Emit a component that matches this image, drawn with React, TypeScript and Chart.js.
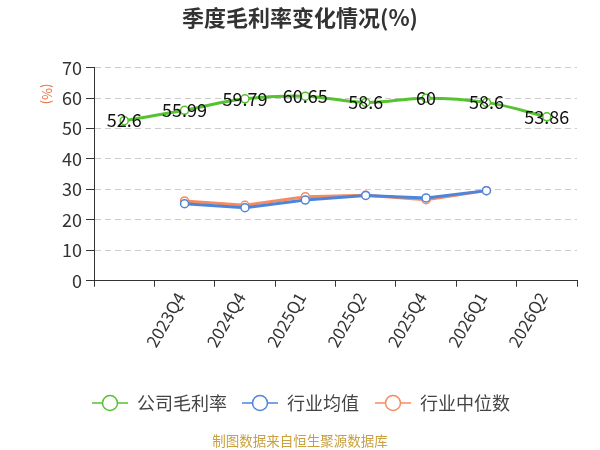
import React, { useEffect, useRef } from "react";
import { Chart, registerables } from "chart.js";

Chart.register(...registerables);

// quarters on the x axis (first slot has no visible label)
const quarters = ["", "2023Q4", "2024Q4", "2025Q1", "2025Q2", "2025Q4", "2026Q1", "2026Q2"];
const companyMargin = [52.6, 55.99, 59.79, 60.65, 58.6, 60, 58.6, 53.86];
const industryAvg = [null, 25.3, 24.0, 26.5, 28.0, 27.2, 29.6, null];
const industryMedian = [null, 26.2, 24.8, 27.6, 28.1, 26.6, 29.6, null];
const yTicks = { min: 0, max: 70, step: 10 };

const FONT = "'Noto Sans CJK SC', 'Noto Sans', sans-serif";
const GREEN = "#55C230";
const BLUE = "#4E85DC";
const ORANGE = "#F58B5E";

const valueLabels = {
  id: "valueLabels",
  afterDatasetsDraw(chart: any) {
    const { ctx } = chart;
    const meta = chart.getDatasetMeta(0);
    ctx.save();
    ctx.font = `18px ${FONT}`;
    ctx.fillStyle = "#111";
    ctx.textAlign = "center";
    ctx.textBaseline = "middle";
    meta.data.forEach((pt: any, i: number) => {
      const v = chart.data.datasets[0].data[i];
      if (v == null) return;
      ctx.fillText(String(v), pt.x, pt.y);
    });
    ctx.restore();
  },
};

// legend with a line through a hollow circle, plus the y unit and source note
const extras = {
  id: "extras",
  afterDraw(chart: any) {
    const { ctx } = chart;
    ctx.save();

    // y axis unit
    ctx.translate(47, 94);
    ctx.rotate(Math.PI / 2);
    ctx.font = `13px ${FONT}`;
    ctx.fillStyle = "#E86A3A";
    ctx.textAlign = "center";
    ctx.textBaseline = "middle";
    ctx.fillText("(%)", 0, 0);
    ctx.setTransform(chart.currentDevicePixelRatio, 0, 0, chart.currentDevicePixelRatio, 0, 0);

    const starts = [92, 242, 375];
    const y = 403;
    chart.data.datasets.forEach((ds: any, i: number) => {
      const x = starts[i];
      ctx.strokeStyle = ds.borderColor;
      ctx.lineWidth = 1.5;
      ctx.beginPath();
      ctx.moveTo(x, y);
      ctx.lineTo(x + 36, y);
      ctx.stroke();
      ctx.beginPath();
      ctx.arc(x + 18, y, 7.5, 0, Math.PI * 2);
      ctx.fillStyle = "#fff";
      ctx.fill();
      ctx.stroke();
      ctx.font = `18px ${FONT}`;
      ctx.fillStyle = "#444";
      ctx.textAlign = "left";
      ctx.textBaseline = "middle";
      ctx.fillText(ds.label, x + 45, y);
    });

    ctx.font = `13.5px ${FONT}`;
    ctx.fillStyle = "#C9A040";
    ctx.textAlign = "center";
    ctx.fillText("制图数据来自恒生聚源数据库", 300, 441);
    ctx.restore();
  },
};

const App = () => {
  const ref = useRef<HTMLCanvasElement | null>(null);

  useEffect(() => {
    document.body.style.margin = "0";
    if (!ref.current) return;

    const chart = new Chart(ref.current, {
      type: "line",
      data: {
        labels: quarters,
        datasets: [
          {
            label: "公司毛利率",
            data: companyMargin,
            borderColor: GREEN,
            backgroundColor: "#fff",
            borderWidth: 3,
            tension: 0.4,
            pointRadius: 4,
            pointBorderWidth: 1.5,
          },
          {
            label: "行业均值",
            data: industryAvg,
            borderColor: BLUE,
            backgroundColor: "#fff",
            borderWidth: 3,
            tension: 0,
            pointRadius: 4,
            pointBorderWidth: 1.5,
          },
          {
            label: "行业中位数",
            data: industryMedian,
            borderColor: ORANGE,
            backgroundColor: "#fff",
            borderWidth: 3,
            tension: 0,
            pointRadius: 4,
            pointBorderWidth: 1.5,
          },
        ],
      },
      options: {
        animation: false,
        responsive: false,
        layout: { padding: { left: 23, right: 23, top: 0, bottom: 0 } },
        plugins: {
          legend: { display: false },
          tooltip: { enabled: false },
          title: {
            display: true,
            text: "季度毛利率变化情况(%)",
            color: "#333",
            font: { family: FONT, size: 22, weight: "bold", lineHeight: 1.2 },
            padding: { top: 4, bottom: 37.3 },
          },
        },
        scales: {
          x: {
            offset: true,
            grid: {
              offset: true,
              drawOnChartArea: false,
              tickLength: 6,
              tickColor: "#333",
            },
            border: { color: "#333" },
            ticks: {
              color: "#333",
              font: { family: FONT, size: 17 },
              minRotation: 60,
              maxRotation: 60,
              autoSkip: false,
              padding: 2,
              labelOffset: -4,
            },
            afterFit: (s: any) => {
              s.height = 169.3;
            },
          },
          y: {
            min: yTicks.min,
            max: yTicks.max,
            grid: {
              color: "#ccc",
              tickColor: "#333",
              tickLength: 8,
              tickBorderDash: [],
            },
            border: { color: "#333", dash: [6, 4] },
            ticks: {
              stepSize: yTicks.step,
              color: "#333",
              font: { family: FONT, size: 18 },
              padding: 4,
            },
            afterFit: (s: any) => {
              s.width = 71;
            },
          },
        },
      },
      plugins: [valueLabels, extras],
    });

    return () => chart.destroy();
  }, []);

  return (
    <div style={{ width: 600, height: 450 }}>
      <canvas ref={ref} width={600} height={450} style={{ width: 600, height: 450 }} />
    </div>
  );
};

export default App;
